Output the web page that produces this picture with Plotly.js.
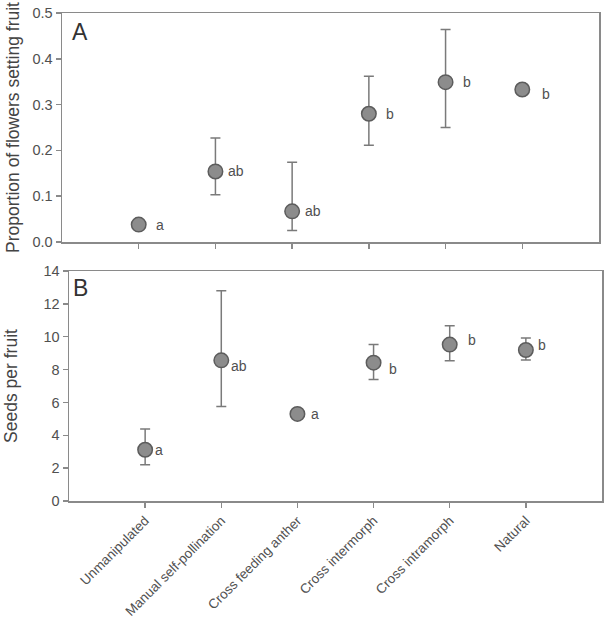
<!DOCTYPE html>
<html>
<head>
<meta charset="utf-8">
<script src="https://cdn.plot.ly/plotly-3.0.1.min.js"></script>
<style>
  html, body { margin: 0; padding: 0; background: #fff; }
  #chart { width: 606px; height: 621px; }
</style>
</head>
<body>
<div id="chart"></div>
<script>
// Pollination treatments
const treatments = ["Unmanipulated", "Manual self-pollination", "Cross feeding anther",
                    "Cross intermorph", "Cross intramorph", "Natural"];

// Panel A: proportion of flowers setting fruit (mean, upper and lower error limits)
const fruitSetMean  = [0.038, 0.154, 0.067, 0.280, 0.349, 0.333];
const fruitSetUpper = [0.038, 0.227, 0.174, 0.362, 0.464, 0.342];
const fruitSetLower = [0.038, 0.103, 0.025, 0.211, 0.250, 0.324];
const fruitSetGroups = ["a", "ab", "ab", "b", "b", "b"];

// Panel B: seeds per fruit (mean, upper and lower error limits)
const seedsMean  = [3.12, 8.56, 5.30, 8.42, 9.52, 9.19];
const seedsUpper = [4.38, 12.80, 5.30, 9.52, 10.66, 9.92];
const seedsLower = [2.20, 5.75, 5.30, 7.40, 8.54, 8.58];
const seedsGroups = ["a", "ab", "a", "b", "b", "b"];

const W = 606, H = 621;
const positions = treatments.map((_, i) => i + 1);

const axisGrey = "#8a8a8a";
const textGrey = "#505050";
const fontFamily = "Liberation Sans, Arial, sans-serif";

function pointTrace(mean, upper, lower, xa, ya) {
  return {
    type: "scatter",
    mode: "markers",
    x: positions,
    y: mean,
    xaxis: xa,
    yaxis: ya,
    marker: { size: 14.5, color: "#8c8c8c", line: { color: "#5c5c5c", width: 1.5 } },
    error_y: {
      type: "data",
      symmetric: false,
      array: upper.map((u, i) => u - mean[i]),
      arrayminus: lower.map((l, i) => mean[i] - l),
      color: "#7a7a7a",
      thickness: 1.5,
      width: 5
    },
    hoverinfo: "skip",
    showlegend: false
  };
}

// Offsets (px) of the significance letters from their points
const letterShiftA = [[21, 0], [21, 0], [21, 0], [21, 0], [21, 0], [24, -5]];
const letterShiftB = [[14, 0], [18, -6], [18, 0], [19, -6], [22, 5], [16, 5]];

function letterAnnotations(groups, mean, shifts, xref, yref) {
  return groups.map((g, i) => ({
    text: g,
    x: positions[i],
    y: mean[i],
    xref: xref,
    yref: yref,
    xanchor: "center",
    yanchor: "middle",
    xshift: shifts[i][0],
    yshift: shifts[i][1],
    showarrow: false,
    font: { family: fontFamily, size: 14, color: textGrey }
  }));
}

function axisStyle(extra) {
  return Object.assign({
    showline: true,
    linecolor: axisGrey,
    linewidth: 1.5,
    mirror: true,
    ticks: "outside",
    ticklen: 5,
    tickwidth: 1.5,
    tickcolor: axisGrey,
    showgrid: false,
    zeroline: false,
    tickfont: { family: fontFamily, size: 14.5, color: textGrey }
  }, extra);
}

const data = [
  pointTrace(fruitSetMean, fruitSetUpper, fruitSetLower, "x", "y"),
  pointTrace(seedsMean, seedsUpper, seedsLower, "x2", "y2")
];

const layout = {
  width: W,
  height: H,
  margin: { l: 0, r: 0, t: 0, b: 0 },
  paper_bgcolor: "#ffffff",
  plot_bgcolor: "#ffffff",
  font: { family: fontFamily, color: textGrey },
  xaxis: axisStyle({
    domain: [62 / W, 599 / W],
    range: [0, 7],
    anchor: "y",
    tickvals: positions,
    ticktext: treatments,
    showticklabels: false
  }),
  yaxis: axisStyle({
    domain: [1 - 242 / H, 1 - 13 / H],
    range: [0, 0.5],
    dtick: 0.1,
    tickformat: ".1f",
    anchor: "x",
    title: { text: "Proportion of flowers setting fruit",
             font: { family: fontFamily, size: 17.5, color: "#444444" }, standoff: 8 }
  }),
  xaxis2: axisStyle({
    domain: [69 / W, 602 / W],
    range: [0, 7],
    anchor: "y2",
    tickvals: positions,
    ticktext: treatments,
    tickangle: -45,
    tickfont: { family: fontFamily, size: 13.5, color: textGrey }
  }),
  yaxis2: axisStyle({
    domain: [1 - 501 / H, 1 - 271 / H],
    range: [0, 14],
    dtick: 2,
    anchor: "x2",
    title: { text: "Seeds per fruit",
             font: { family: fontFamily, size: 17.5, color: "#444444" }, standoff: 21 }
  }),
  annotations: [
    { text: "A", xref: "x domain", yref: "y domain", x: 0.0335, y: 0.917,
      xanchor: "center", yanchor: "middle", showarrow: false,
      font: { family: fontFamily, size: 23, color: "#333333" } },
    { text: "B", xref: "x2 domain", yref: "y2 domain", x: 0.0216, y: 0.926,
      xanchor: "center", yanchor: "middle", showarrow: false,
      font: { family: fontFamily, size: 23, color: "#333333" } }
  ]
    .concat(letterAnnotations(fruitSetGroups, fruitSetMean, letterShiftA, "x", "y"))
    .concat(letterAnnotations(seedsGroups, seedsMean, letterShiftB, "x2", "y2"))
};

Plotly.newPlot("chart", data, layout, { displayModeBar: false, staticPlot: true });
</script>
</body>
</html>
